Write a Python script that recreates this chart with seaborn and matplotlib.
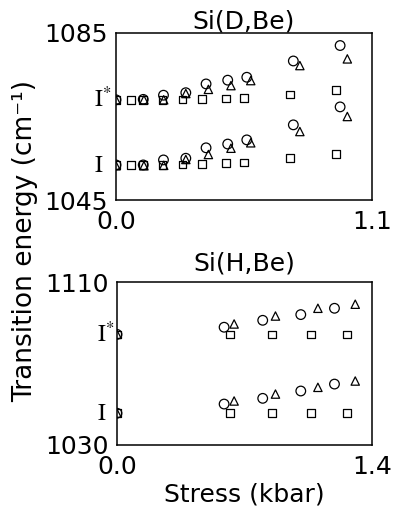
import matplotlib
matplotlib.use("Agg")
import matplotlib.pyplot as plt
import matplotlib.transforms as mtransforms
import seaborn as sns
import pandas as pd

# ---------------- data ----------------
# Panel 1: Si(D,Be)
d_sq_x = [0.0, 0.064, 0.117, 0.20, 0.285, 0.37, 0.473, 0.55, 0.748, 0.945]
d_sq_I = [1053.4, 1053.4, 1053.4, 1053.4, 1053.5, 1053.6, 1053.8, 1054.0, 1055.0, 1056.0]
d_sq_Is = [1069.0, 1069.0, 1069.0, 1069.0, 1069.1, 1069.2, 1069.3, 1069.4, 1070.3, 1071.3]
d_ci_x = [0.0, 0.117, 0.204, 0.30, 0.387, 0.48, 0.562, 0.762, 0.963]
d_ci_I = [1053.4, 1053.4, 1054.6, 1055.0, 1057.5, 1058.4, 1059.4, 1063.0, 1067.3]
d_ci_Is = [1069.0, 1069.1, 1070.1, 1070.7, 1072.8, 1073.7, 1074.4, 1078.3, 1082.0]
d_tr_x = [0.0, 0.12, 0.205, 0.30, 0.397, 0.494, 0.579, 0.79, 0.994]
d_tr_I = [1053.2, 1053.2, 1053.3, 1054.7, 1055.9, 1057.4, 1058.7, 1061.4, 1065.0]
d_tr_Is = [1069.0, 1069.0, 1069.0, 1070.5, 1071.5, 1072.4, 1073.6, 1077.2, 1078.8]

# Panel 2: Si(H,Be)
h_sq_x = [0.0, 0.62, 0.85, 1.066, 1.262]
h_sq_I = [1045.6, 1045.6, 1045.6, 1045.6, 1045.6]
h_sq_Is = [1084.3, 1084.3, 1084.3, 1084.3, 1084.3]
h_ci_x = [0.0, 0.588, 0.80, 1.009, 1.194]
h_ci_I = [1045.6, 1050.1, 1052.9, 1056.5, 1059.9]
h_ci_Is = [1084.3, 1087.8, 1091.2, 1094.0, 1097.1]
h_tr_x = [0.0, 0.643, 0.87, 1.103, 1.308]
h_tr_I = [1045.6, 1051.6, 1055.0, 1058.3, 1061.4]
h_tr_Is = [1084.3, 1089.4, 1093.3, 1097.1, 1099.1]

panel_titles = ["Si(D,Be)", "Si(H,Be)"]
d_xlim, d_ylim = (0.0, 1.1), (1045, 1085)
h_xlim, h_ylim = (0.0, 1.4), (1030, 1110)
d_levels = [1053.3, 1069.0]
h_levels = [1045.6, 1084.3]
level_labels = [r"$\mathrm{I}$", r"$\mathrm{I}^{*}$"]

# ---------------- style ----------------
sns.set_theme(style="white")
plt.rcParams["font.family"] = ["DejaVu Sans"]
plt.rcParams["text.color"] = "black"
plt.rcParams["axes.labelcolor"] = "black"
plt.rcParams["axes.titlecolor"] = "black"

fig = plt.figure(figsize=(3.93, 5.16), dpi=100)
ax1 = fig.add_axes([116/393, 1 - 200/516, 256/393, 167/516])
ax2 = fig.add_axes([117/393, 1 - 445/516, 255/393, 163/516])


def draw(ax, series, xlim, ylim, levels, title, title_pad, lab_x):
    for x, y1, y2, mk, s in series:
        df = pd.DataFrame({"stress": list(x) + list(x), "energy": list(y1) + list(y2)})
        sns.scatterplot(data=df, x="stress", y="energy", marker=mk, s=s,
                        facecolor="none", edgecolor="black", linewidth=0.9,
                        ax=ax, legend=False)
    for coll in ax.collections:
        coll.set_facecolor("none")
        coll.set_edgecolor("black")
    ax.set_xlim(*xlim)
    ax.set_ylim(*ylim)
    ax.set_xticks(list(xlim))
    ax.set_xticklabels([f"{v:.1f}" for v in xlim])
    ax.set_yticks(list(ylim))
    ax.set_yticklabels([str(v) for v in ylim])
    ax.tick_params(length=0, labelsize=18, colors="black")
    ax.tick_params(axis="x", pad=7)
    ax.tick_params(axis="y", pad=6)
    ax.set_xlabel("")
    ax.set_ylabel("")
    for sp in ax.spines.values():
        sp.set_color("black")
        sp.set_linewidth(1.1)
    ax.set_title(title, fontsize=18, pad=title_pad, color="black")
    trans = mtransforms.blended_transform_factory(ax.transAxes, ax.transData)
    for lv, lab in zip(levels, level_labels):
        ax.text(lab_x, lv, lab, transform=trans, ha="left", va="center",
                fontsize=17, math_fontfamily="stix", color="black", clip_on=False)


draw(ax1,
     [(d_sq_x, d_sq_I, d_sq_Is, "s", 30),
      (d_ci_x, d_ci_I, d_ci_Is, "o", 48),
      (d_tr_x, d_tr_I, d_tr_Is, "^", 36)],
     d_xlim, d_ylim, d_levels, panel_titles[0], 3, -0.085)
draw(ax2,
     [(h_sq_x, h_sq_I, h_sq_Is, "s", 30),
      (h_ci_x, h_ci_I, h_ci_Is, "o", 48),
      (h_tr_x, h_tr_I, h_tr_Is, "^", 36)],
     h_xlim, h_ylim, h_levels, panel_titles[1], 8, -0.08)

ax2.set_xlabel("Stress (kbar)", fontsize=18, labelpad=3, color="black")
fig.text(25/393, 1 - 241/516, "Transition energy (cm\u207b\u00b9)", rotation=90,
         ha="center", va="center", fontsize=19, color="black")

fig.savefig("out.png", dpi=100)
